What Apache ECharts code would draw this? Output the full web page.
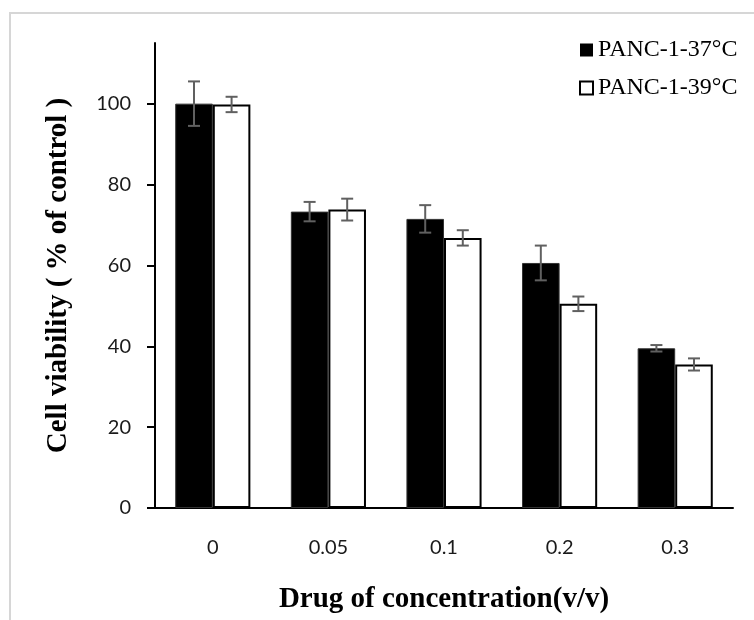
<!DOCTYPE html>
<html>
<head>
<meta charset="utf-8">
<script src="https://cdn.jsdelivr.net/npm/echarts@6/dist/echarts.min.js"></script>
<style>html,body{margin:0;padding:0;background:#fff}#c{width:754px;height:620px}</style>
</head>
<body>
<div id="c"></div>
<script>
const categories = ['0', '0.05', '0.1', '0.2', '0.3'];
const series37 = [100, 73.3, 71.5, 60.6, 39.5];
const err37 = [5.5, 2.4, 3.4, 4.3, 0.8];
const series39 = [99.8, 73.8, 66.8, 50.5, 35.5];
const err39 = [1.9, 2.7, 1.9, 1.8, 1.5];
const yTicks = [0, 20, 40, 60, 80, 100];
const seriesNames = ['PANC-1-37\u00b0C', 'PANC-1-39\u00b0C'];

const BAR_FRAC = 0.325;
function errSeries(vals, errs, offset) {
  return {
    type: 'custom',
    z: 10,
    silent: true,
    data: vals.map((v, i) => [i, v, errs[i]]),
    renderItem: function (params, api) {
      const i = api.value(0), v = api.value(1), e = api.value(2);
      const hi = api.coord([i, v + e]);
      const lo = api.coord([i, v - e]);
      const band = api.size([1, 0])[0];
      const x = hi[0] + offset * band;
      const cap = 6;
      const st = { stroke: '#606060', lineWidth: 2 };
      return {
        type: 'group',
        children: [
          { type: 'line', shape: { x1: x, y1: hi[1], x2: x, y2: lo[1] }, style: st },
          { type: 'line', shape: { x1: x - cap, y1: hi[1], x2: x + cap, y2: hi[1] }, style: st },
          { type: 'line', shape: { x1: x - cap, y1: lo[1], x2: x + cap, y2: lo[1] }, style: st }
        ]
      };
    }
  };
}

const chart = echarts.init(document.getElementById('c'));
chart.setOption({
  animation: false,
  backgroundColor: '#fff',
  graphic: [{
    type: 'rect',
    shape: { x: 10, y: 13, width: 800, height: 700 },
    style: { fill: 'none', stroke: '#d6d6d6', lineWidth: 2 },
    silent: true, z: -1
  }],
  legend: {
    orient: 'vertical',
    left: 574,
    top: 32,
    itemWidth: 13,
    itemHeight: 13,
    itemGap: 12,
    icon: 'rect',
    textStyle: { fontFamily: 'Liberation Serif', fontSize: 24, color: '#000', lineHeight: 26 },
    data: [
      { name: seriesNames[0], itemStyle: { color: '#000', borderWidth: 0 } },
      { name: seriesNames[1], itemStyle: { color: '#fff', borderColor: '#000', borderWidth: 2 } }
    ]
  },
  grid: { left: 155, right: 21, top: 43, bottom: 112, containLabel: false },
  xAxis: {
    type: 'category',
    data: categories,
    name: 'Drug of concentration(v/v)',
    nameLocation: 'middle',
    nameGap: 77,
    nameTextStyle: { fontFamily: 'Liberation Serif', fontWeight: 'bold', fontSize: 29, color: '#000' },
    axisLine: { lineStyle: { color: '#000', width: 2 } },
    axisTick: { show: false },
    axisLabel: { margin: 30, fontFamily: 'Lato', fontSize: 20, color: '#1a1a1a' }
  },
  yAxis: {
    type: 'value',
    min: 0,
    max: 115,
    interval: 20,
    name: 'Cell viability ( % of control )',
    nameLocation: 'middle',
    nameRotate: 90,
    nameGap: 82,
    nameTextStyle: { fontFamily: 'Liberation Serif', fontWeight: 'bold', fontSize: 29, color: '#000' },
    splitLine: { show: false },
    axisLine: { show: true, lineStyle: { color: '#000', width: 2 } },
    axisTick: { show: true, length: 8, customValues: yTicks, lineStyle: { color: '#000', width: 2 } },
    axisLabel: { margin: 24, fontFamily: 'Lato', fontSize: 20, color: '#1a1a1a', customValues: yTicks }
  },
  series: [
    {
      name: seriesNames[0], type: 'bar', data: series37,
      barWidth: (BAR_FRAC * 100) + '%', barGap: '0%',
      itemStyle: { color: '#000', borderColor: '#333', borderWidth: 1 }
    },
    {
      name: seriesNames[1], type: 'bar', data: series39,
      barWidth: (BAR_FRAC * 100) + '%', barGap: '0%',
      itemStyle: { color: '#fff', borderColor: '#000', borderWidth: 2 }
    },
    errSeries(series37, err37, -BAR_FRAC / 2),
    errSeries(series39, err39, BAR_FRAC / 2)
  ]
});
</script>
</body>
</html>
